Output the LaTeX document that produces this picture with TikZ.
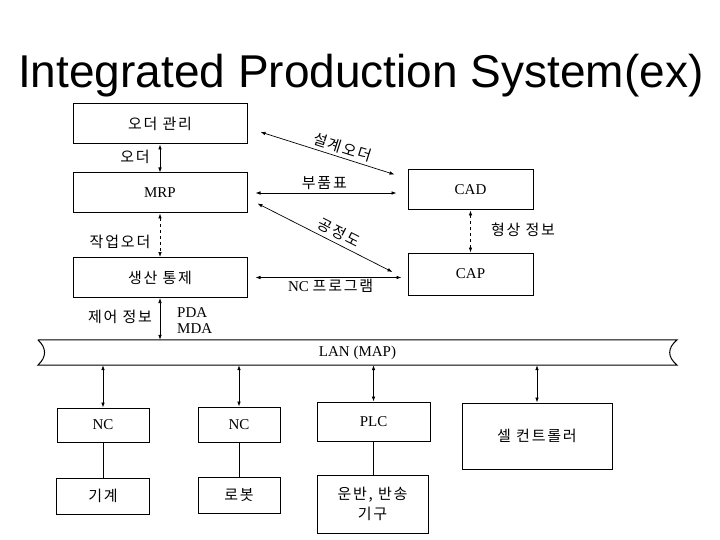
\documentclass[tikz,border=0pt]{standalone}
\usepackage{fontspec}
\setmainfont{Liberation Serif}
\setsansfont{Liberation Sans}
\newfontfamily\kr[LetterSpace=12]{Noto Sans CJK KR}
\usetikzlibrary{arrows.meta,calc}

\begin{document}
\begin{tikzpicture}[
  x=1pt, y=-1pt,
  font=\fontsize{15}{18}\selectfont,
  box/.style={draw,line width=1pt,inner sep=2pt,align=center},
  dbl/.style={{Latex[length=5pt,width=3.6pt]}-{Latex[length=5pt,width=3.6pt]},line width=.7pt},
  link/.style={line width=.7pt},
  note/.style={inner sep=1pt,font=\fontsize{15}{18}\selectfont\kr},
]
\useasboundingbox (0,0) rectangle (720,540);

\node[font=\sffamily\fontsize{46}{50}\selectfont,anchor=base west,inner sep=0] (title) at (18,88) {Integrated Production System(ex)};

% planning column
\foreach \y/\id/\txt in {124/order/{\kr 오더 관리},193/mrp/MRP,277.5/ctrl/{\kr 생산 통제}}
  \node[box,minimum width=174,minimum height=40] (\id) at (160,\y) {\txt};

\node[box,minimum width=125,minimum height=40] (cad) at (470.5,190) {CAD};
\node[box,minimum width=125,minimum height=42] (cap) at (470.5,274) {CAP};

\draw[dbl] (order) -- (mrp);
\draw[dbl,dashed] (mrp) -- (ctrl);
\node[note] (lorder) at (135,157) {오더};
\node[note] (ljob) at (120,242) {작업오더};
\node[note] (lctrl) at (120,317) {제어 정보};
\node[inner sep=0,align=left,font=\fontsize{15}{16}\selectfont,anchor=west] (lpda) at (177,321) {PDA\\MDA};

\draw[dbl] ($(order.east)+(13,8)$) -- ($(cad.north west)+(-13,5)$)
  node[note,pos=.59,sloped,above=2pt] (ldesign) {설계오더};
\draw[dbl,shorten <=8pt,shorten >=11pt] (mrp.east) -- (mrp.east -| cad.west)
  node[note,pos=.48,above=2pt] (lbom) {부품표};
\draw[dbl] ($(mrp.south east)+(10,-10)$) -- ($(cap.west)+(-15,-2)$)
  node[note,pos=.57,sloped,above=3pt] (lproc) {공정도};
\draw[dbl,shorten <=8pt,shorten >=6pt] (ctrl.east) -- (ctrl.east -| cap.west)
  node[pos=.52,below=0pt,inner sep=1pt] (lnc) {NC {\kr 프로그램}};
\draw[dbl,dashed] (cad) -- (cap);
\node[note] (lshape) at (523,230) {형상 정보};

% network band
\node[minimum width=639,minimum height=25,inner sep=0] (lan) at (357.5,352.5) {LAN (MAP)};
\draw[line width=1pt] (lan.north west) -- (lan.north east)
  .. controls +(-10,8) and +(-10,-8) .. (lan.south east) -- (lan.south west)
  .. controls +(9,-8) and +(9,8) .. (lan.north west);
\draw[dbl] (ctrl.south) -- (ctrl.south |- lan.north);

% shop floor
\node[box,minimum width=92,minimum height=34] (nc1) at (103,425) {NC};
\node[box,minimum width=93,minimum height=36] (mach) at (103,496) {\kr 기계};
\node[box,minimum width=82,minimum height=35] (nc2) at (239,424.5) {NC};
\node[box,minimum width=82,minimum height=36] (robot) at (239,495) {\kr 로봇};
\node[box,minimum width=113,minimum height=39] (plc) at (373.5,421.5) {PLC};
\node[box,minimum width=111,minimum height=58,font=\fontsize{15}{20}\selectfont\kr] (trans) at (372.5,504) {운반, 반송\\기구};
\node[box,minimum width=150,minimum height=66] (cell) at (537,436) {\kr 셀 컨트롤러};

\foreach \n in {nc1,nc2,plc,cell}
  \draw[dbl] (lan.south -| \n.north) -- (\n.north);
\foreach \a/\b in {nc1/mach,nc2/robot,plc/trans}
  \draw[link] (\a.south) -- (\a.south |- \b.north);
\end{tikzpicture}
\end{document}
